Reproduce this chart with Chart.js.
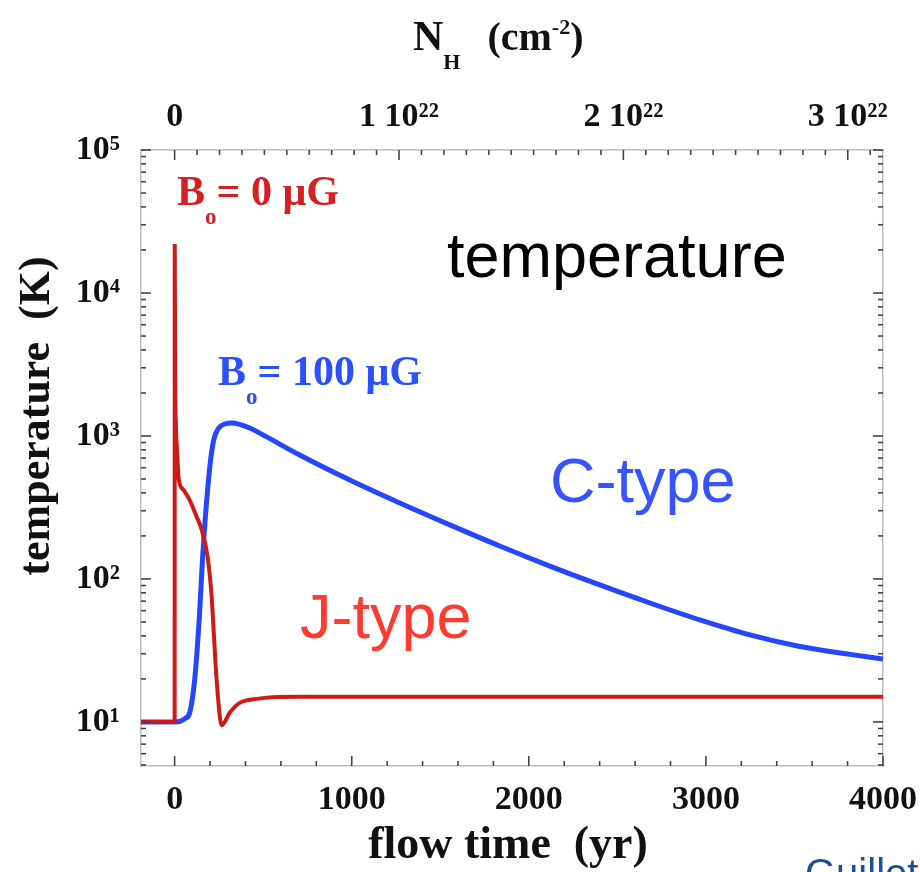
<!DOCTYPE html>
<html>
<head>
<meta charset="utf-8">
<script src="https://cdn.jsdelivr.net/npm/chart.js@4.4.1/dist/chart.umd.min.js"></script>
<style>
  html, body { margin: 0; padding: 0; background: #fff; }
  canvas { display: block; }
</style>
</head>
<body>
<canvas id="myChart" width="920" height="872"></canvas>
<script>
// flow time (yr) and temperature (K) for the two shock models
var jTypeTime = [-190, 0, 0.5, 3, 7, 12, 17, 23, 50, 85, 120, 153, 186, 209, 220, 237, 266, 311, 367, 463, 554, 700, 1000, 2000, 3000, 4000];
var jTypeTemp = [10, 10, 22000, 2500, 1200, 850, 650, 500, 420, 356, 280, 220, 143, 75, 44, 19.7, 9.5, 11.6, 13.6, 14.5, 14.9, 15, 15, 15, 15, 15];

var cTypeTime = [-190, 0, 30, 60, 85, 113, 141, 158, 186, 215, 254, 322, 424, 520, 706, 989, 1271, 1554, 1836, 2119, 2401, 2684, 2966, 3249, 3531, 3814, 4000];
var cTypeTemp = [10, 10, 10.1, 10.6, 11.6, 19.7, 58, 142, 420, 865, 1156, 1233, 1138, 985, 736, 492, 340, 239, 170, 123, 90.8, 67.9, 51.7, 40.6, 33.7, 29.7, 27.6];

// labelled ticks: flow time, column density (units of 1e22 cm-2), temperature decades
var timeTicks = [0, 1000, 2000, 3000, 4000];
var columnTicks = [0, 1, 2, 3];
var tempDecades = [1, 2, 3, 4, 5];
var yrPerColumn = 1267; // flow time matching 1e22 cm-2

var timeMin = -190, timeMax = 4000;
var tempMin = 4.92, tempMax = 1e5;

function pairs(xs, ys) {
  return xs.map(function (x, i) { return { x: x, y: ys[i] }; });
}

var sup = { '0': '⁰', '1': '¹', '2': '²', '3': '³', '4': '⁴', '5': '⁵', '6': '⁶', '7': '⁷', '8': '⁸', '9': '⁹' };
function toSup(n) {
  return String(n).split('').map(function (c) { return sup[c]; }).join('');
}

// tick lists incl. minor ones
function timeTickList() {
  var out = [];
  for (var v = 0; v <= timeMax; v += 200) out.push({ value: v, major: v % 1000 === 0 });
  return out;
}
function columnTickList() {
  var out = [];
  for (var i = 0; i <= Math.floor(timeMax / yrPerColumn * 10); i++) out.push({ value: i / 10, major: i % 10 === 0 });
  return out;
}
function tempTickList() {
  var out = [];
  [5, 6, 7, 8, 9].forEach(function (m) { out.push({ value: m, major: false }); });
  tempDecades.forEach(function (e) {
    var base = Math.pow(10, e);
    out.push({ value: base, major: true });
    if (e < 5) for (var m = 2; m <= 9; m++) out.push({ value: m * base, major: false });
  });
  return out;
}

function noEdgePadding(s) {
  s.paddingLeft = 0; s.paddingRight = 0; s.paddingTop = 0; s.paddingBottom = 0;
}

var tickFont = { family: 'Liberation Serif', weight: 'bold', size: 34 };

// small inward tick marks on all four sides
var insideTicks = {
  id: 'insideTicks',
  afterDraw: function (chart) {
    var ctx = chart.ctx, a = chart.chartArea;
    ctx.save();
    ctx.strokeStyle = '#444';
    ctx.lineWidth = 1.6;
    Object.keys(chart.scales).forEach(function (id) {
      var s = chart.scales[id];
      s.ticks.forEach(function (t) {
        var len = t.major ? 10 : 5;
        var p = s.getPixelForValue(t.value);
        ctx.beginPath();
        if (id === 'x') { ctx.moveTo(p, a.bottom); ctx.lineTo(p, a.bottom - len); }
        else if (id === 'x2') { ctx.moveTo(p, a.top); ctx.lineTo(p, a.top + len); }
        else if (id === 'y') { ctx.moveTo(a.left, p); ctx.lineTo(a.left + len, p); }
        else { ctx.moveTo(a.right, p); ctx.lineTo(a.right - len, p); }
        ctx.stroke();
      });
    });
    ctx.restore();
  }
};

// text with a lowered or raised small part
function drawParts(ctx, x, y, parts, color) {
  ctx.fillStyle = color;
  ctx.textBaseline = 'alphabetic';
  ctx.textAlign = 'left';
  parts.forEach(function (p) {
    ctx.font = 'bold ' + p.size + 'px "Liberation Serif"';
    ctx.fillText(p.text, x, y + (p.dy || 0));
    x += ctx.measureText(p.text).width + (p.gap || 0);
  });
}

var labels = {
  id: 'labels',
  afterDraw: function (chart) {
    var ctx = chart.ctx;
    ctx.save();

    drawParts(ctx, 413, 50, [
      { text: 'N', size: 42 },
      { text: 'H', size: 22, dy: 19, gap: 27 },
      { text: '(cm', size: 40 },
      { text: '-2', size: 22, dy: -16 },
      { text: ')', size: 40 }
    ], '#111');

    ctx.font = 'bold 46px "Liberation Serif"';
    ctx.fillStyle = '#111';
    ctx.textAlign = 'center';
    ctx.textBaseline = 'alphabetic';
    ctx.fillText('flow time  (yr)', 508, 858);

    ctx.font = 'bold 44px "Liberation Serif"';
    ctx.save();
    ctx.translate(49, 416);
    ctx.rotate(-Math.PI / 2);
    ctx.fillText('temperature  (K)', 0, 0);
    ctx.restore();

    drawParts(ctx, 177, 205, [
      { text: 'B', size: 42 },
      { text: 'o', size: 23, dy: 19 },
      { text: '= 0 μG', size: 42 }
    ], '#d42020');
    drawParts(ctx, 218, 385, [
      { text: 'B', size: 42 },
      { text: 'o', size: 23, dy: 19 },
      { text: '= 100 μG', size: 42 }
    ], '#2a50ff');

    ctx.textAlign = 'left';
    ctx.font = '63px "Liberation Sans"';
    ctx.fillStyle = '#000';
    ctx.fillText('temperature', 447, 277);
    ctx.fillStyle = '#3553ff';
    ctx.fillText('C-type', 550, 502);
    ctx.fillStyle = '#ff3b30';
    ctx.fillText('J-type', 300, 638);

    ctx.font = '40px "Liberation Sans"';
    ctx.fillStyle = '#1f4f8f';
    ctx.fillText('Guillet et al.', 805, 887);
    ctx.restore();
  }
};

var ctx = document.getElementById('myChart').getContext('2d');
var tempChart = new Chart(ctx, {
  type: 'line',
  data: {
    datasets: [
      {
        label: 'J-type',
        data: pairs(jTypeTime, jTypeTemp),
        borderColor: '#cc1a14',
        borderWidth: 4,
        pointRadius: 0,
        cubicInterpolationMode: 'monotone'
      },
      {
        label: 'C-type',
        data: pairs(cTypeTime, cTypeTemp),
        borderColor: '#2446ff',
        borderWidth: 5,
        pointRadius: 0,
        cubicInterpolationMode: 'monotone'
      }
    ]
  },
  options: {
    responsive: false,
    animation: false,
    layout: { padding: 0 },
    plugins: { legend: { display: false }, tooltip: { enabled: false } },
    scales: {
      x: {
        type: 'linear',
        position: 'bottom',
        min: timeMin,
        max: timeMax,
        grid: { display: false },
        border: { color: '#bbb', width: 1.5 },
        ticks: {
          autoSkip: false,
          maxRotation: 0,
          padding: 6,
          color: '#111',
          font: tickFont,
          callback: function (v) { return timeTicks.indexOf(v) >= 0 ? String(v) : ''; }
        },
        afterBuildTicks: function (s) { s.ticks = timeTickList(); },
        afterFit: function (s) { s.height = 106; noEdgePadding(s); }
      },
      x2: {
        type: 'linear',
        position: 'top',
        min: timeMin / yrPerColumn,
        max: timeMax / yrPerColumn,
        grid: { display: false },
        border: { color: '#bbb', width: 1.5 },
        ticks: {
          autoSkip: false,
          maxRotation: 0,
          padding: 4,
          color: '#111',
          font: tickFont,
          callback: function (v) {
            var r = Math.round(v);
            if (Math.abs(v - r) > 1e-6 || columnTicks.indexOf(r) < 0) return '';
            return r === 0 ? '0' : r + ' 10²²';
          }
        },
        afterBuildTicks: function (s) { s.ticks = columnTickList(); },
        afterFit: function (s) { s.height = 150; noEdgePadding(s); }
      },
      y: {
        type: 'logarithmic',
        position: 'left',
        min: tempMin,
        max: tempMax,
        grid: { display: false },
        border: { color: '#bbb', width: 1.5 },
        ticks: {
          autoSkip: false,
          padding: 13,
          color: '#111',
          font: tickFont,
          callback: function (v) {
            var e = Math.round(Math.log10(v));
            if (tempDecades.indexOf(e) < 0 || Math.abs(v - Math.pow(10, e)) > 1e-6) return '';
            return '10' + toSup(e);
          }
        },
        afterBuildTicks: function (s) { s.ticks = tempTickList(); },
        afterFit: function (s) { s.width = 141; noEdgePadding(s); }
      },
      y2: {
        type: 'logarithmic',
        position: 'right',
        min: tempMin,
        max: tempMax,
        grid: { display: false },
        border: { color: '#bbb', width: 1.5 },
        ticks: { display: false },
        afterBuildTicks: function (s) { s.ticks = tempTickList(); },
        afterFit: function (s) { s.width = 37; noEdgePadding(s); }
      }
    }
  },
  plugins: [insideTicks, labels]
});
</script>
</body>
</html>
